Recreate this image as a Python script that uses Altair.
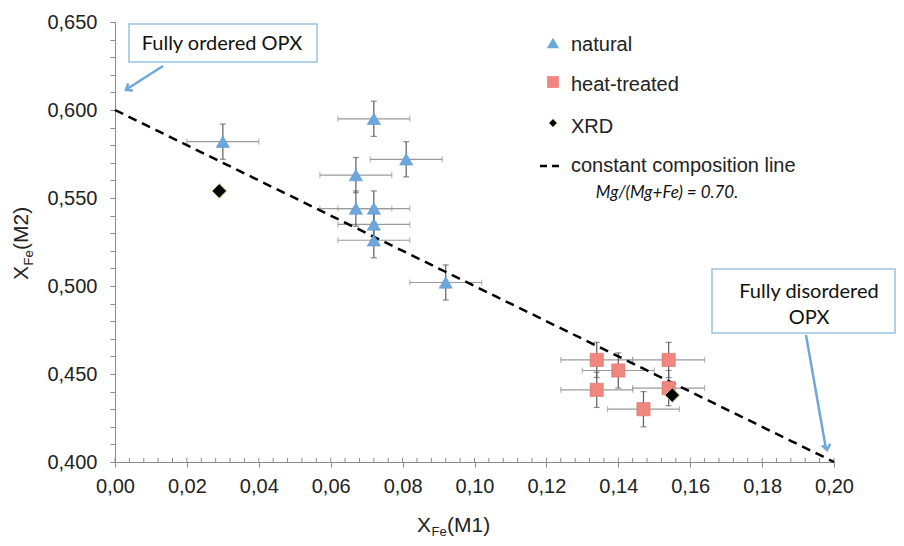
import altair as alt
import pandas as pd

# ---------------- data ----------------
nat_x = [0.030, 0.072, 0.081, 0.067, 0.067, 0.072, 0.072, 0.072, 0.092]
nat_y = [0.582, 0.595, 0.572, 0.563, 0.544, 0.544, 0.535, 0.526, 0.502]
nat_ex = [0.010, 0.010, 0.010, 0.010, 0.010, 0.010, 0.010, 0.010, 0.010]
nat_ey = [0.010, 0.010, 0.010, 0.010, 0.010, 0.010, 0.010, 0.010, 0.010]

heat_x = [0.134, 0.140, 0.154, 0.134, 0.154, 0.147]
heat_y = [0.458, 0.452, 0.458, 0.441, 0.442, 0.430]
heat_ex = [0.010, 0.010, 0.010, 0.010, 0.010, 0.010]
heat_ey = [0.010, 0.010, 0.010, 0.010, 0.010, 0.010]

xrd_x = [0.029, 0.155]
xrd_y = [0.554, 0.438]

line_x = [0.00, 0.20]
line_y = [0.60, 0.40]

x_major = [0.00, 0.02, 0.04, 0.06, 0.08, 0.10, 0.12, 0.14, 0.16, 0.18, 0.20]
x_minor = [round(i * 0.004, 3) for i in range(51)]
y_ticks = [round(0.40 + i * 0.01, 2) for i in range(26)]

legend_labels = ["natural", "heat-treated", "XRD", "constant composition line"]
legend_note = "Mg/(Mg+Fe) = 0.70."
note_ordered = "Fully ordered OPX"
note_disordered = ["Fully disordered", "OPX"]
x_title = ["X", "Fe", "(M1)"]
y_title = ["X", "Fe", "(M2)"]

# ---------------- style ----------------
W, H = 719, 440
AX = "#8a8a8a"
LABEL = "#222222"
FONT = "Liberation Sans"
CAL = "Lato"
BLUE = "#6ba7da"
RED = "#f0877f"
ARROW = "#6fa8d8"
BOX = "#9cc2e4"

xaxis = alt.Axis(values=x_major, title=None, grid=False,
                 labelExpr="replace(format(datum.value, '.2f'), '.', ',')",
                 domainColor=AX, tickColor=AX, tickSize=5, domainWidth=1,
                 labelFont=FONT, labelFontSize=20, labelColor=LABEL,
                 labelPadding=9, labelFlush=False, labelOverlap=False)
yaxis = alt.Axis(values=y_ticks, title=None, grid=False,
                 labelExpr="round(datum.value * 100) % 5 == 0 ? replace(format(datum.value, '.3f'), '.', ',') : ''",
                 domainColor=AX, tickColor=AX, tickSize=5, domainWidth=1,
                 labelFont=FONT, labelFontSize=20, labelColor=LABEL,
                 labelPadding=13, labelFlush=False, labelOverlap=False)

xs = alt.Scale(domain=[0, 0.2], nice=False, zero=False)
ys = alt.Scale(domain=[0.40, 0.65], nice=False, zero=False)


def X(f):
    return alt.X(f, type="quantitative", scale=xs, axis=xaxis)


def Y(f):
    return alt.Y(f, type="quantitative", scale=ys, axis=yaxis)


def frame(xv, yv, ex, ey):
    d = pd.DataFrame({"x": xv, "y": yv, "ex": ex, "ey": ey})
    d["xlo"] = d["x"] - d["ex"]
    d["xhi"] = d["x"] + d["ex"]
    d["ylo"] = d["y"] - d["ey"]
    d["yhi"] = d["y"] + d["ey"]
    return d


nat = frame(nat_x, nat_y, nat_ex, nat_ey)
heat = frame(heat_x, heat_y, heat_ex, heat_ey)
err = pd.concat([nat, heat], ignore_index=True)
hcaps = pd.concat([pd.DataFrame({"cx": err["xlo"], "y": err["y"]}),
                   pd.DataFrame({"cx": err["xhi"], "y": err["y"]})], ignore_index=True)
vcaps = pd.concat([pd.DataFrame({"x": err["x"], "cy": err["ylo"]}),
                   pd.DataFrame({"x": err["x"], "cy": err["yhi"]})], ignore_index=True)
xrd = pd.DataFrame({"x": xrd_x, "y": xrd_y})
line = pd.DataFrame({"x": line_x, "y": line_y})
minor = pd.DataFrame({"x": x_minor})
one = pd.DataFrame({"a": [0]})

HCOL = "#9a9a9a"
VCOL = "#5e5e5e"

inner_ticks = alt.Chart(minor).mark_rule(color=AX, strokeWidth=1).encode(
    x=X("x"), y=alt.value(H), y2=alt.value(H - 4))

h_err = alt.Chart(err).mark_rule(color=HCOL, strokeWidth=1.2).encode(
    x=X("xlo"), x2="xhi", y=Y("y"))
h_cap = alt.Chart(hcaps).mark_tick(orient="vertical", color=HCOL, size=6, thickness=1.2).encode(
    x=X("cx"), y=Y("y"))
v_err = alt.Chart(err).mark_rule(color=VCOL, strokeWidth=1.2).encode(
    x=X("x"), y=Y("ylo"), y2="yhi")
v_cap = alt.Chart(vcaps).mark_tick(orient="horizontal", color=VCOL, size=6, thickness=1.2).encode(
    x=X("x"), y=Y("cy"))

dash = alt.Chart(line).mark_line(color="black", strokeDash=[9, 6], strokeWidth=2.5).encode(
    x=X("x"), y=Y("y"))

tri = alt.Chart(nat).mark_point(shape="triangle-up", filled=True, size=175, fill=BLUE,
                                stroke="#5a98cf", strokeWidth=0.6, opacity=1).encode(x=X("x"), y=Y("y"))
sq = alt.Chart(heat).mark_point(shape="square", filled=True, size=175, fill=RED,
                                stroke="#dd6e68", strokeWidth=0.6, opacity=1).encode(x=X("x"), y=Y("y"))
dia = alt.Chart(xrd).mark_point(shape="diamond", filled=True, size=210, fill="black",
                                stroke="#b9c97c", strokeWidth=1, opacity=1).encode(x=X("x"), y=Y("y"))

base = alt.Chart(one)


def txt(s, x, y, size=20, font=FONT, align="left", baseline="middle", style="normal", color=LABEL, angle=0):
    return base.mark_text(text=s, font=font, fontSize=size, align=align, baseline=baseline,
                          fontStyle=style, color=color, angle=angle).encode(
        x=alt.value(x), y=alt.value(y))


# legend
leg = [
    base.mark_point(shape="triangle-up", filled=True, size=150, fill=BLUE, opacity=1).encode(
        x=alt.value(438), y=alt.value(21)),
    txt(legend_labels[0], 456, 23),
    base.mark_point(shape="square", filled=True, size=140, fill=RED, opacity=1).encode(
        x=alt.value(438), y=alt.value(60)),
    txt(legend_labels[1], 456, 63),
    base.mark_point(shape="diamond", filled=True, size=70, fill="black",
                    stroke="#b9c97c", strokeWidth=0.8, opacity=1).encode(
        x=alt.value(438), y=alt.value(101)),
    txt(legend_labels[2], 456, 105),
    base.mark_rule(color="black", strokeDash=[7, 5], strokeWidth=2.5).encode(
        x=alt.value(425), x2=alt.value(445), y=alt.value(144)),
    txt(legend_labels[3], 456, 144),
    txt(legend_note, 552, 171, size=17, font=CAL, align="center", style="italic", color="#111111"),
]

# annotation boxes and arrows
ann = [
    base.mark_rect(fill="white", stroke=BOX, strokeWidth=1.5).encode(
        x=alt.value(14), x2=alt.value(202), y=alt.value(2), y2=alt.value(40)),
    txt(note_ordered, 107, 22, size=20, font=CAL, align="center", color="#111111"),
    base.mark_rule(color=ARROW, strokeWidth=2.5).encode(
        x=alt.value(48), y=alt.value(44), x2=alt.value(12), y2=alt.value(67)),
    base.mark_point(shape="M-1,-1.3L0,0L1,-1.3", filled=False, stroke=ARROW, strokeWidth=2.5,
                    size=70, opacity=1, angle=57).encode(x=alt.value(11), y=alt.value(68)),
    base.mark_rect(fill="white", stroke=BOX, strokeWidth=1.5).encode(
        x=alt.value(597), x2=alt.value(780), y=alt.value(247), y2=alt.value(311)),
    txt(note_disordered[0], 694, 270, size=20, font=CAL, align="center", color="#111111"),
    txt(note_disordered[1], 694, 296, size=20, font=CAL, align="center", color="#111111"),
    base.mark_rule(color=ARROW, strokeWidth=2.5).encode(
        x=alt.value(691), y=alt.value(313), x2=alt.value(711), y2=alt.value(427)),
    base.mark_point(shape="M-1,-1.3L0,0L1,-1.3", filled=False, stroke=ARROW, strokeWidth=2.5,
                    size=70, opacity=1, angle=350).encode(x=alt.value(712), y=alt.value(428)),
]

# axis titles (with subscript)
TS, SS = 21, 13
xt0 = 302
yt0 = 258
titles = [
    txt(x_title[0], xt0, 510, size=TS, baseline="alphabetic"),
    txt(x_title[1], xt0 + 14.5, 514, size=SS, baseline="alphabetic"),
    txt(x_title[2], xt0 + 30, 510, size=TS, baseline="alphabetic"),
    txt(y_title[0], -87, yt0, size=TS, baseline="alphabetic", angle=270),
    txt(y_title[1], -82, yt0 - 14.5, size=SS, baseline="alphabetic", angle=270),
    txt(y_title[2], -87, yt0 - 30, size=TS, baseline="alphabetic", angle=270),
]

chart = alt.layer(inner_ticks, h_err, h_cap, v_err, v_cap, dash, tri, sq, dia,
                  *leg, *ann, *titles).properties(
    width=W, height=H,
    autosize=alt.AutoSizeParams(type="none"),
    padding={"left": 107, "top": 14, "right": 62, "bottom": 76},
).configure_view(stroke=None)

chart.save("out.html", embed_options={"renderer": "svg", "actions": False})
